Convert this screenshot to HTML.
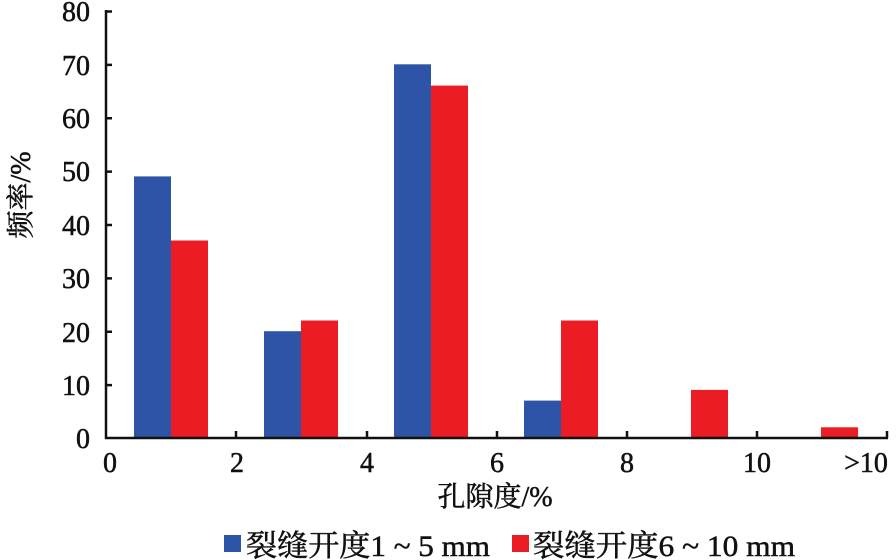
<!DOCTYPE html>
<html><head><meta charset="utf-8"><style>body{margin:0;background:#fff}svg{display:block}text{font-family:"Liberation Serif","Noto Serif CJK SC",serif;fill:#111;stroke:#111;stroke-width:0.5}</style></head><body>
<svg width="896" height="560" viewBox="0 0 896 560">
<g fill="#2E54A8">
<rect x="134" y="176.4" width="37" height="261.6"/>
<rect x="264" y="331.2" width="37" height="106.8"/>
<rect x="394" y="64.3" width="37" height="373.7"/>
<rect x="524" y="400.6" width="37" height="37.4"/>
</g>
<g fill="#EC1C24">
<rect x="171" y="240.5" width="37" height="197.5"/>
<rect x="301" y="320.5" width="37" height="117.5"/>
<rect x="431" y="85.6" width="37" height="352.4"/>
<rect x="561" y="320.5" width="37" height="117.5"/>
<rect x="691" y="389.9" width="37" height="48.1"/>
<rect x="821" y="427.3" width="37" height="10.7"/>
</g>
<g stroke="#111" stroke-width="2.5" fill="none">
<path d="M106 10 V438 H888"/>
<path d="M106 11.5h6M106 64.9h6M106 118.3h6M106 171.6h6M106 225h6M106 278.4h6M106 331.8h6M106 385.1h6"/>
<path d="M236 438v-7M367 438v-7M497 438v-7M627 438v-7M757 438v-7M887 438v-7"/>
</g>
<g font-size="28" text-anchor="end">
<text x="90" y="448">0</text><text x="90" y="395">10</text><text x="90" y="342">20</text><text x="90" y="288">30</text><text x="90" y="235">40</text><text x="90" y="181">50</text><text x="90" y="128">60</text><text x="90" y="75">70</text><text x="90" y="21">80</text>
</g>
<g font-size="28" text-anchor="middle">
<text x="110" y="472">0</text><text x="237" y="472">2</text><text x="367" y="472">4</text><text x="497" y="472">6</text><text x="627" y="472">8</text><text x="757" y="472">10</text><text x="866" y="472">&gt;10</text>
<text x="495" y="506">孔隙度/%</text>
</g>
<text font-size="28" text-anchor="middle" transform="translate(30 195) rotate(-90)">频率/%</text>
<rect x="224" y="535" width="17" height="17" fill="#2E54A8" stroke="none"/>
<text x="246" y="556" font-size="30" textLength="244" lengthAdjust="spacingAndGlyphs">裂缝开度1 ~ 5 mm</text>
<rect x="512" y="535" width="17" height="17" fill="#EC1C24" stroke="none"/>
<text x="533" y="556" font-size="30" textLength="262" lengthAdjust="spacingAndGlyphs">裂缝开度6 ~ 10 mm</text>
</svg>
</body></html>
